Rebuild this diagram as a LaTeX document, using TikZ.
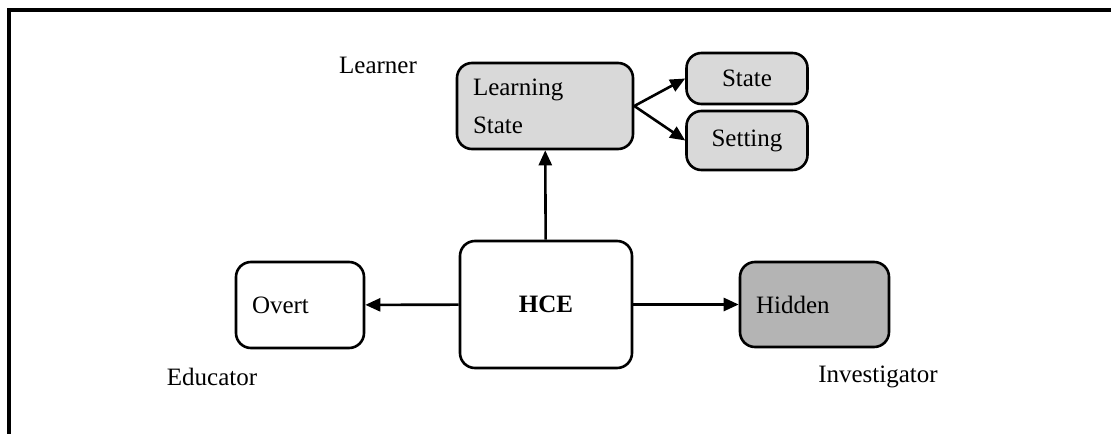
\documentclass[tikz,border=0pt]{standalone}
\usepackage{fontspec}
\setmainfont{Liberation Serif}
\usetikzlibrary{arrows.meta}
\definecolor{lightfill}{HTML}{D9D9D9}
\definecolor{darkfill}{HTML}{B4B4B4}
\begin{document}
\begin{tikzpicture}[x=1pt, y=-1pt, >={Triangle[length=15pt,width=13pt]},
  box/.style={draw, line width=2.6pt, rounded corners=15pt, inner sep=0pt, font=\fontsize{25}{38}\selectfont},
  lbl/.style={font=\fontsize{25}{30}\selectfont, inner sep=0pt}]
\useasboundingbox (0,0) rectangle (1111,434);
\draw[line width=4pt] (1111,10) -- (9,10) -- (9,434);

\node[box, fill=lightfill, minimum width=176pt, minimum height=86pt, text width=144pt, align=left] (ls) at (545,106) {Learning\\State};
\node[box, fill=lightfill, minimum width=121pt, minimum height=51pt] (st) at (747,78.5) {State};
\node[box, fill=lightfill, minimum width=121pt, minimum height=59pt] (se) at (747,140.5) {Setting};
\node[box, minimum width=172pt, minimum height=127pt] (hce) at (546,304.5) {\textbf{HCE}};
\node[box, minimum width=128pt, minimum height=86pt, text width=96pt, align=left] (ov) at (300,305) {Overt};
\node[box, fill=darkfill, minimum width=149pt, minimum height=85pt, text width=117pt, align=left] (hid) at (814.5,304.5) {Hidden};

\draw[->, line width=2.6pt] (hce) -- (ls);
\draw[->, line width=2.6pt] (ls.east) -- (st.west);
\draw[->, line width=2.6pt] (ls.east) -- (se.west);
\draw[->, line width=2.6pt] (hce) -- (ov);
\draw[->, line width=2.6pt] (hce) -- (hid);

\node[lbl] (learner) at (378,65) {Learner};
\node[lbl] (educator) at (212,377) {Educator};
\node[lbl] (investigator) at (878,377) {Investigator};
\end{tikzpicture}
\end{document}
